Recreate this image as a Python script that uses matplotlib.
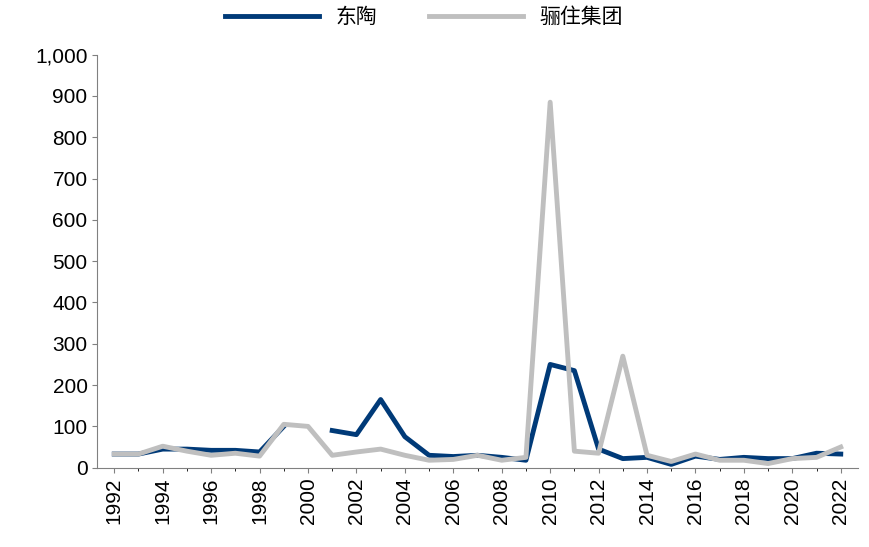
import matplotlib
matplotlib.use("Agg")
import matplotlib.pyplot as plt
import numpy as np

years = list(range(1992, 2023))
dongtao = [33, 33, 45, 45, 42, 42, 38, 100, np.nan, 90, 80, 165, 75, 30, 27, 30, 25, 18,
           250, 235, 45, 22, 25, 8, 28, 20, 25, 22, 22, 35, 33]
lizhu = [33, 33, 52, 40, 30, 35, 28, 105, 100, 30, 38, 45, 30, 18, 20, 30, 18, 25,
         885, 40, 35, 270, 30, 15, 33, 18, 18, 10, 22, 25, 50]
names = ["东陶", "骊住集团"]

plt.rcParams["font.family"] = ["Liberation Sans", "Noto Sans CJK SC"]
fig = plt.figure(figsize=(8.69, 5.47), dpi=100)
ax = fig.add_axes([0.112, 0.145, 0.875, 0.755])
ax.plot(years, dongtao, color="#003a78", lw=3.5, label=names[0])
ax.plot(years, lizhu, color="#bfbfbf", lw=3.5, label=names[1])
ax.set_ylim(0, 1000)
ax.set_xlim(1991.3, 2022.7)
ax.set_yticks(range(0, 1001, 100))
ax.set_yticklabels([f"{v:,}" for v in range(0, 1001, 100)], fontsize=15)
ax.set_xticks(range(1992, 2023, 2))
ax.set_xticklabels([str(y) for y in range(1992, 2023, 2)], rotation=90, fontsize=15)
ax.set_xticks(range(1992, 2023), minor=True)
for s in ["top", "right"]:
    ax.spines[s].set_visible(False)
ax.spines["left"].set_color("#808080")
ax.spines["bottom"].set_color("#808080")
ax.tick_params(axis="both", color="#808080", direction="out")
ax.legend(loc="upper center", bbox_to_anchor=(0.43, 1.16), ncol=2, frameon=False,
          fontsize=15, handlelength=4.5, columnspacing=2.5)
fig.savefig("out.png", dpi=100)
